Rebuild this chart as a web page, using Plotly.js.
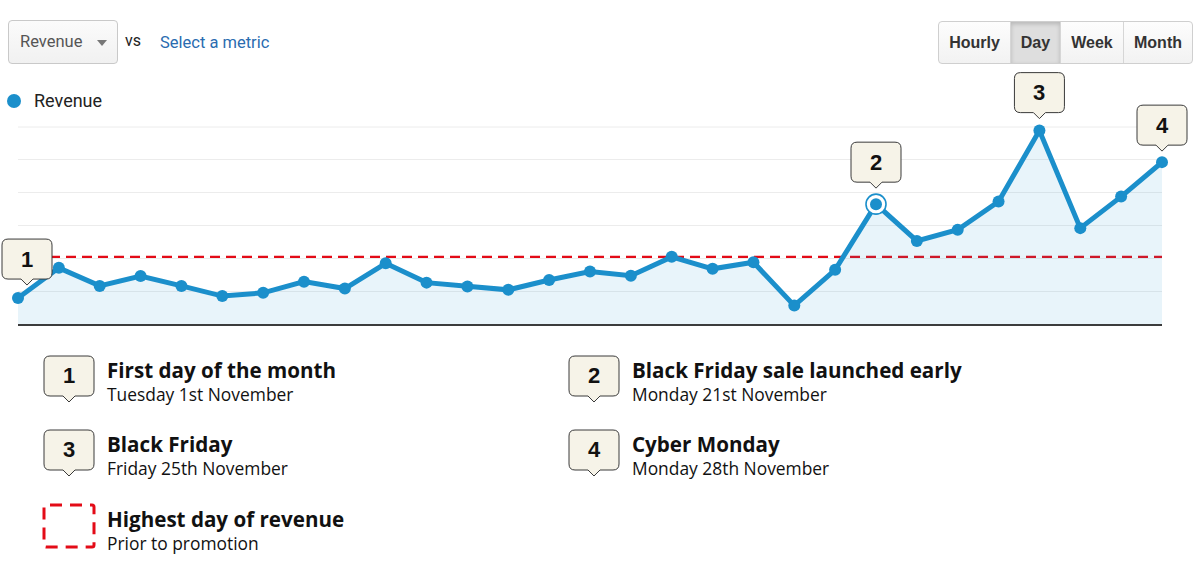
<!DOCTYPE html>
<html><head><meta charset="utf-8">
<script src="https://cdn.plot.ly/plotly-3.0.1.min.js"></script>
<style>
body{margin:0;background:#fff;}
#wrap{position:relative;width:1200px;height:580px;overflow:hidden;font-family:Roboto,"Liberation Sans",sans-serif;}
#chart{position:absolute;left:0;top:0;width:1200px;height:580px;}
.ov{position:absolute;white-space:nowrap;}
#dd{left:8px;top:20px;width:108px;height:42px;border:1px solid #c9c9c9;border-radius:4px;background:linear-gradient(#fbfbfb,#f1f1f1);}
#dd span{position:absolute;left:11px;top:11px;font-size:16.5px;color:#555;}
#dd i{position:absolute;left:88px;top:19px;width:0;height:0;border-left:5px solid transparent;border-right:5px solid transparent;border-top:6px solid #777;}
#vs{left:125px;top:31px;font-size:16px;color:#222;}
#sel{left:160px;top:33px;font-size:16.5px;color:#2a6cb0;}
#btns{left:938px;top:21px;height:41px;border:1px solid #cfcfcf;border-radius:4px;display:flex;overflow:hidden;background:linear-gradient(#fdfdfd,#f2f2f2);}
#btns div{height:41px;line-height:41px;text-align:center;font-family:"Liberation Sans",Arial,sans-serif;font-weight:bold;font-size:16px;color:#333;border-left:1px solid #d6d6d6;box-sizing:border-box;}
#btns div:first-child{border-left:none;}
#btns div.on{background:#dedede;box-shadow:inset 0 2px 4px rgba(0,0,0,0.18);}
#leg{left:7px;top:90px;font-size:18px;color:#222;}
#leg b{display:inline-block;width:14px;height:14px;border-radius:50%;background:#1b8fcb;vertical-align:-1px;margin-right:13px;}
.kt{font-family:"Open Sans",sans-serif;font-weight:bold;font-size:20.6px;line-height:26px;color:#111;}
.ks{font-family:"Open Sans",sans-serif;font-size:17.4px;line-height:22px;color:#111;}
</style></head><body>
<div id="wrap">
<div id="chart"></div>
<div class="ov" id="dd"><span>Revenue</span><i></i></div>
<div class="ov" id="vs">vs</div>
<div class="ov" id="sel">Select a metric</div>
<div class="ov" id="btns"></div>
<div class="ov" id="leg"><b></b>Revenue</div>
<div id="key"></div>
</div>
<script>
// ---- data ----
const dates = ["2022-10-31","2022-11-01","2022-11-02","2022-11-03","2022-11-04","2022-11-05","2022-11-06",
  "2022-11-07","2022-11-08","2022-11-09","2022-11-10","2022-11-11","2022-11-12","2022-11-13","2022-11-14",
  "2022-11-15","2022-11-16","2022-11-17","2022-11-18","2022-11-19","2022-11-20","2022-11-21","2022-11-22",
  "2022-11-23","2022-11-24","2022-11-25","2022-11-26","2022-11-27","2022-11-28"];
const revenue = [790,1710,1160,1460,1160,850,950,1290,1080,1850,1260,1140,1040,1340,1600,1470,2045,1680,1880,
  560,1650,3650,2530,2870,3730,5890,2920,3880,4930];
const priorHigh = 2030;
const seriesName = "Revenue";
const calloutLabels = ["1","2","3","4"];
const calloutIndex = [0,21,25,28];
const highlightIndex = 21;
const keyTitles = ["First day of the month","Black Friday sale launched early","Black Friday","Cyber Monday","Highest day of revenue"];
const keySubs = ["Tuesday 1st November","Monday 21st November","Friday 25th November","Monday 28th November","Prior to promotion"];
const periods = ["Hourly","Day","Week","Month"];
const activePeriod = "Day";

// ---- styles ----
const BLUE = "#1b8fcb", RED = "#e30b17", CFILL = "#f6f3e8", CLINE = "#3a3a3a";
const YMAX = 6000;
const calloutStyle = [{dx:9,gap:13},{dx:0,gap:16},{dx:0,gap:12},{dx:0,gap:11}];
const BW = 50, BH = 40, TH = 6, TW = 6, R = 6;

function calloutPath(dx, g, svgDown) {
  const s = svgDown ? -1 : 1;
  const l = dx - BW/2, r = dx + BW/2, b = g + TH, t = g + TH + BH;
  const Y = v => s*v;
  return `M${dx},${Y(g)} L${dx-TW},${Y(b)} L${l+R},${Y(b)} Q${l},${Y(b)} ${l},${Y(b+R)} L${l},${Y(t-R)} Q${l},${Y(t)} ${l+R},${Y(t)} L${r-R},${Y(t)} Q${r},${Y(t)} ${r},${Y(t-R)} L${r},${Y(b+R)} Q${r},${Y(b)} ${r-R},${Y(b)} L${dx+TW},${Y(b)} Z`;
}
const t0 = Date.parse(dates[0]), t1 = Date.parse(dates[dates.length-1]);
const xFrac = d => (Date.parse(d) - t0) / (t1 - t0);
const yFrac = v => v / YMAX;

const traces = [
  {x:dates, y:revenue, type:"scatter", mode:"lines+markers", name:seriesName, fill:"tozeroy",
   fillcolor:"rgba(27,143,203,0.10)", line:{color:BLUE,width:5}, marker:{color:BLUE,size:12},
   cliponaxis:false, hoverinfo:"x+y"},
  {x:[dates[highlightIndex]], y:[revenue[highlightIndex]], type:"scatter", mode:"markers",
   marker:{color:"#ffffff",size:20,line:{color:BLUE,width:1.6}}, cliponaxis:false, hoverinfo:"skip"},
  {x:[dates[highlightIndex]], y:[revenue[highlightIndex]], type:"scatter", mode:"markers",
   marker:{color:BLUE,size:12}, cliponaxis:false, hoverinfo:"skip"}
];

const shapes = [
  {type:"line", xref:"paper", x0:0, x1:1, yref:"y", y0:priorHigh, y1:priorHigh, layer:"below",
   line:{color:RED,width:3,dash:"10px,6px"}},
  {type:"line", xref:"paper", x0:0, x1:1, yref:"paper", y0:1, y1:1, layer:"below",
   line:{color:"#ececec",width:1}}
];
const annotations = [];
calloutIndex.forEach((idx,i) => {
  const st = calloutStyle[i];
  shapes.push({type:"path", xref:"paper", yref:"paper", xsizemode:"pixel", ysizemode:"pixel",
    xanchor:xFrac(dates[idx]), yanchor:yFrac(revenue[idx]), path:calloutPath(st.dx, st.gap, false),
    fillcolor:CFILL, line:{color:CLINE,width:1}, layer:"above"});
  annotations.push({x:dates[idx], y:revenue[idx], text:"<b>"+calloutLabels[i]+"</b>", showarrow:false,
    xshift:st.dx, yshift:st.gap+TH+BH/2, font:{family:"Liberation Sans, Arial, sans-serif",size:22,color:"#111"}});
});

const layout = {
  width:1200, height:580, margin:{l:18,r:38,t:127,b:256}, paper_bgcolor:"#fff", plot_bgcolor:"#fff",
  showlegend:false,
  xaxis:{type:"date", range:[dates[0],dates[dates.length-1]], showgrid:false, showticklabels:false, zeroline:false,
         showline:true, linecolor:"#3c3c3c", linewidth:2, fixedrange:true},
  yaxis:{range:[0,YMAX], dtick:1000, showgrid:true, gridcolor:"#ececec", gridwidth:1, showticklabels:false,
         zeroline:false, showline:false, fixedrange:true},
  shapes:shapes, annotations:annotations
};
Plotly.newPlot("chart", traces, layout, {displayModeBar:false, staticPlot:true});

// ---- period buttons ----
const widths = [71,50,63,69];
const btns = document.getElementById("btns");
periods.forEach((p,i) => {
  const d = document.createElement("div");
  d.textContent = p; d.style.width = widths[i]+"px";
  if (p === activePeriod) d.className = "on";
  btns.appendChild(d);
});

// ---- key ----
const keyPos = [[44,356],[569,356],[44,430],[569,430],[44,505]];
const key = document.getElementById("key");
keyTitles.forEach((t,i) => {
  const [x,y] = keyPos[i];
  if (i < 4) {
    const svg = `<svg class="ov" style="left:${x-6}px;top:${y-4}px" width="64" height="56">
      <g transform="translate(31,50)"><path d="${calloutPath(0,0,true)}" fill="${CFILL}" stroke="${CLINE}" stroke-width="1"/></g>
      <text x="31" y="31" text-anchor="middle" font-family="Liberation Sans, Arial" font-weight="bold" font-size="22" fill="#111">${calloutLabels[i]}</text></svg>`;
    key.insertAdjacentHTML("beforeend", svg);
  } else {
    key.insertAdjacentHTML("beforeend", `<svg class="ov" style="left:${x-2}px;top:${y-2}px" width="56" height="48">
      <rect x="2" y="2" width="50" height="42" rx="2" fill="none" stroke="${RED}" stroke-width="3" stroke-dasharray="12 8" stroke-dashoffset="-4"/></svg>`);
  }
  key.insertAdjacentHTML("beforeend", `<div class="ov kt" style="left:${x+63}px;top:${y+1}px">${t}</div>`);
  key.insertAdjacentHTML("beforeend", `<div class="ov ks" style="left:${x+63}px;top:${y+27}px">${keySubs[i]}</div>`);
});
</script>
</body></html>
